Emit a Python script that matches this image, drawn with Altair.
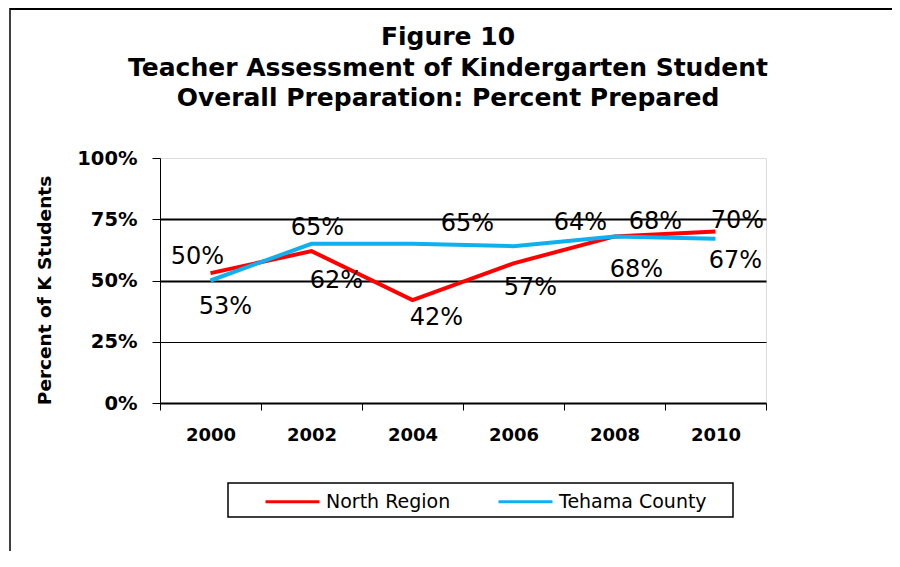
import altair as alt
import pandas as pd

years = ["2000", "2002", "2004", "2006", "2008", "2010"]
north_region = [53, 62, 42, 57, 68, 70]
tehama_county = [50, 65, 65, 64, 68, 67]
series_names = ["North Region", "Tehama County"]
series_colors = ["#FF0000", "#10AFEE"]
y_ticks = [0, 25, 50, 75, 100]

# label nudges (pixels) relative to each point, as placed in the original
north_dx = [15, 25, 24, 17, 41, 22]
north_dy = [34, 30, 18, 25, -14, -11]
tehama_dx = [-13, 6, 55, 67, 22, 20]
tehama_dy = [-24, -16, -20, -23, 34, 22]

rows = []
for name, vals, dxs, dys in [
    (series_names[0], north_region, north_dx, north_dy),
    (series_names[1], tehama_county, tehama_dx, tehama_dy),
]:
    for yr, v, dx, dy in zip(years, vals, dxs, dys):
        rows.append({"series": name, "year": yr, "value": v,
                     "label": f"{v}%", "ldx": dx, "ldy": dy})
df = pd.DataFrame(rows)

W, H = 606, 245

x_enc = alt.X("year:O", title=None, sort=years, bandPosition=0.5,
              scale=alt.Scale(type="band", paddingInner=0, paddingOuter=0),
              axis=alt.Axis(labelAngle=0, tickBand="extent", domainColor="black",
                            domainWidth=2, tickColor="black", tickSize=7, tickWidth=1,
                            labelFont="DejaVu Sans", labelFontWeight="bold",
                            labelFontSize=18, labelColor="black", labelPadding=16,
                            grid=False))
y_enc = alt.Y("value:Q", title="Percent of K Students",
              scale=alt.Scale(domain=[0, 100], nice=False, zero=True),
              axis=alt.Axis(values=y_ticks, labelExpr="datum.value + '%'",
                            domainColor="black", domainWidth=1, tickColor="black",
                            tickSize=8, tickWidth=1, labelFont="DejaVu Sans",
                            labelFontWeight="bold", labelFontSize=19.5,
                            labelColor="black", labelPadding=15,
                            grid=True, gridColor="black",
                            gridOpacity=alt.expr("datum.value == 100 || datum.value == 0 ? 0 : 1"),
                            gridWidth=alt.expr("datum.value == 25 ? 1 : 2"),
                            titleFont="DejaVu Sans", titleFontWeight="bold",
                            titleFontSize=18.5, titleColor="black",
                            titleX=-116, titleY=132, titleAngle=-90,
                            titleBaseline="middle", titleAlign="center"))

color_enc = alt.Color("series:N", title=None,
                      scale=alt.Scale(domain=series_names, range=series_colors),
                      legend=alt.Legend(orient="none", legendX=104, legendY=315,
                                        direction="horizontal", symbolType="stroke",
                                        symbolSize=2916, symbolStrokeWidth=3,
                                        labelFont="DejaVu Sans", labelFontSize=19,
                                        labelColor="black", labelOffset=5,
                                        columnPadding=41, padding=0))

lines = alt.Chart(df).mark_line(strokeWidth=4, clip=False).encode(
    x=x_enc, y=y_enc, color=color_enc, order=alt.Order("series:N"))

labels = alt.Chart(df).mark_text(
    font="DejaVu Sans", fontSize=24, color="black", baseline="middle",
    align="center", dx=alt.expr("datum.ldx"), dy=alt.expr("datum.ldy")
).encode(x=alt.X("year:O", sort=years, bandPosition=0.5), y="value:Q", text="label:N")

one = alt.InlineData(values=[{"k": 0}])
frame_top = alt.Chart(one).mark_rule(color="black", strokeWidth=2).encode(
    x=alt.value(-150), x2=alt.value(734), y=alt.value(-149))
frame_left = alt.Chart(one).mark_rule(color="black", strokeWidth=1.5).encode(
    x=alt.value(-150), y=alt.value(-150), y2=alt.value(393))
legend_box = alt.Chart(one).mark_rect(fill=None, stroke="black", strokeWidth=1.5).encode(
    x=alt.value(68), x2=alt.value(573), y=alt.value(325), y2=alt.value(359))

chart = alt.layer(frame_top, frame_left, legend_box, lines, labels).properties(
    width=W, height=H,
    title=alt.TitleParams(
        text=["Figure 10", "Teacher Assessment of Kindergarten Student",
              "Overall Preparation: Percent Prepared"],
        font="DejaVu Sans", fontSize=25, fontWeight="bold", color="black",
        anchor="middle", frame="group", lineHeight=30.5, offset=-104, dx=-15),
    autosize=alt.AutoSizeParams(type="none"),
    padding={"left": 152, "top": 150, "right": 126, "bottom": 148},
).configure_view(stroke=None).configure(background="white")

chart.save("out.html", embed_options={"renderer": "svg", "actions": False})
